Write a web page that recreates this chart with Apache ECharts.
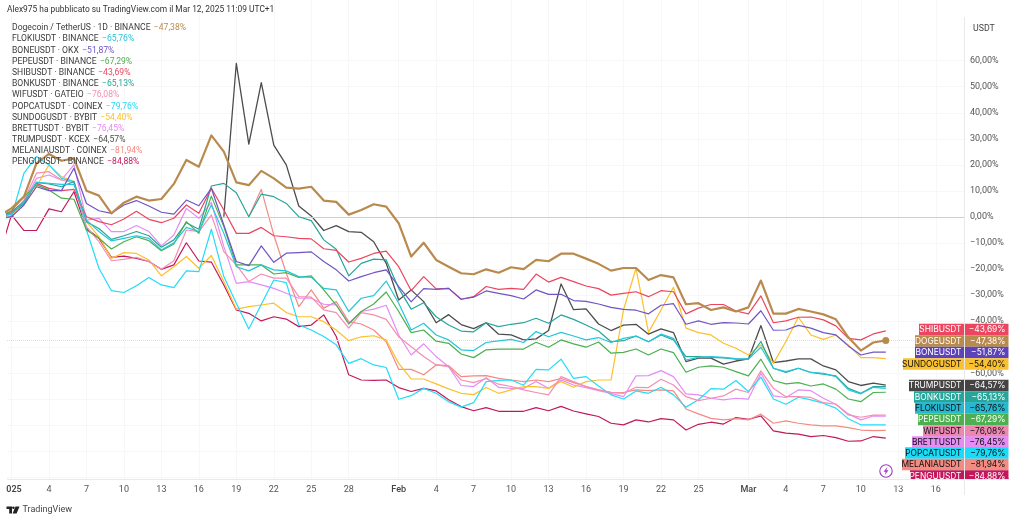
<!DOCTYPE html>
<html>
<head>
<meta charset="utf-8">
<style>
  html, body { margin: 0; padding: 0; background: #fff; }
  #chart { width: 1024px; height: 521px; }
</style>
<script src="https://cdn.jsdelivr.net/npm/echarts@6/dist/echarts.min.js"></script>
</head>
<body>
<div id="chart"></div>
<script>
// percent change, one value per day; day 0 = Jan 1, day -1 = Dec 31
const doge = [0.5, 3.3,7.8,20.6,24.2,21.6,22.5,10.1,8.2,1.4,5.5,7.8,6.3,6.9,12.7,21.9,19.3,31.3,25.1,13.3,12.2,17.7,14.8,11.3,10.9,11.6,6.3,5.8,
  0.9,2.7,4.9,4,-2.4,-15.2,-9.9,-16.5,-19.1,-21.6,-22,-20.1,-21.4,-19.3,-20,-16.5,-17,-14.1,-14.1,-16,-18,-20.6,-19.6,-19.6,-24.2,-22.3,-23.2,
  -33.5,-33.1,-35.7,-34.7,-36.3,-34.7,-24.4,-37.1,-37.1,-35.3,-36.3,-37.4,-39.3,-46.2,-51.3,-48.2,-47.4];
const shib = [0, 2,5.9,12.9,11,10.1,10.6,0.1,-1.8,-3,-0.8,2.2,-0.9,-2.2,-0.5,4.6,1.4,11,2.7,-6.3,-6.3,-4,-7.2,-7.6,-8.2,-8.4,-12.2,-12.8,
  -17.3,-15.9,-14,-13.1,-19.1,-28.3,-22.9,-27.6,-27.4,-31.6,-30.6,-26.7,-27.8,-27.4,-27.8,-21.9,-25,-23.2,-24.8,-26.5,-27.5,-30,-29.3,-28.7,-30.6,-28.3,-28.7,
  -37.2,-35,-33.6,-33.6,-36.1,-37.2,-30.3,-40.6,-39.9,-38.5,-38.4,-39.5,-41.8,-46.6,-47.2,-44.9,-43.7];
const bone = [-0.5, 0.1,4.6,11.6,10.1,10.1,18.7,5.2,2.4,1.4,4.6,6.3,4.2,1.8,1.1,6.5,4.3,11,-3.1,-17.1,-18.7,-11.1,-17.4,-13.9,-13.7,-13.4,-17.1,-20.3,
  -24.6,-22.9,-21.4,-20.3,-26.7,-32.6,-27.5,-27.8,-27.4,-31.6,-30.8,-28.4,-29.3,-30.2,-31.5,-28,-29.7,-29.7,-32.1,-32.4,-33.4,-34.7,-35.5,-35.8,-37.2,-33.9,-33.3,
  -41.2,-39.9,-41.2,-40.6,-40.7,-41.1,-36,-43.5,-43.4,-41.6,-42.7,-44.4,-45.3,-49.5,-53,-51.9,-51.9];
const bonk = [0, 1.4,5.2,13.3,12.7,11.6,13.6,-1.8,-4.4,-8.6,-7.2,-5.6,-7.2,-11.6,-8.8,-2.2,-4.7,11.9,12.9,9.3,0.1,8.8,7.8,5.2,0.1,-1.4,-8.8,-12.4,
  -22.6,-17.8,-16.2,-16.5,-27.4,-35.4,-32.9,-38.3,-41.5,-43.8,-44.1,-40.6,-42.1,-41.2,-40.6,-38.9,-40.8,-37.6,-39.3,-41.5,-43.8,-47.9,-47.5,-45.7,-47.9,-45.3,-47.2,
  -53.6,-53.6,-53.9,-54.1,-54.6,-54.6,-47.8,-58.1,-59.7,-58.1,-59.7,-60.3,-61,-65.8,-67.7,-65.1,-65.1];
const floki = [0, 1.2,5.9,13.3,12.9,12.5,12.5,-1.2,-5.6,-9.2,-8.2,-7.2,-8.2,-12.7,-9.9,-4,-5.6,4.6,-6.3,-19.1,-20.7,-18.4,-20.3,-20.7,-22.9,-23.2,-27.4,-28,
  -36.3,-31.2,-30.2,-24.6,-33.1,-43.4,-40.8,-45.3,-47.2,-51,-51.3,-48.2,-47.6,-47,-48.2,-44,-46,-44.3,-45.7,-47.2,-46.3,-48.2,-46.6,-45.7,-47.9,-45,-46.6,
  -54.9,-53.9,-53.6,-53.9,-54.4,-54.6,-50,-58.1,-59.4,-58.1,-59.7,-60,-61.3,-66.4,-67.9,-65.4,-65.8];
const pepe = [0, 2.4,7.8,12.3,10.4,7.2,6.8,-5,-8.2,-12.3,-9.5,-7.6,-9.1,-13,-10.4,-1.8,-6.3,8,-3.7,-18.4,-18.4,-18.4,-21.9,-21.4,-23.2,-22.6,-28,-33.8,
  -41.1,-36.3,-33.4,-28.8,-36.3,-44.4,-43.4,-47.7,-48.5,-52.6,-54,-51,-50.7,-50.7,-50.7,-48.1,-50,-47.2,-48.7,-50,-48,-52.3,-52,-50.7,-53,-50.7,-52.1,
  -59.6,-57.7,-57.2,-57.7,-59.4,-61,-54.6,-62.8,-64.1,-63.6,-64.9,-64.1,-66.1,-69.9,-70.9,-67.4,-67.3];
const wif = [0, 1.4,6.5,16.8,17.4,14.2,13.2,-3.7,-9.5,-16.8,-16.3,-15.5,-17.1,-20.1,-16.8,-5,-5.6,0.8,-13.3,-18.4,-24.8,-21.9,-23.5,-23.5,-30.6,-30.8,-35.7,-36.7,
  -42.7,-36.7,-37.6,-39.3,-46,-49.8,-53.6,-56.8,-57.5,-62.6,-63.6,-62,-64.2,-65.1,-66.4,-67.4,-68.3,-61.3,-63.2,-65.1,-66.4,-67.4,-67.7,-65.4,-65.5,-62.3,-64.5,
  -69,-70.5,-69.6,-68.7,-66.1,-67.4,-59.1,-65.8,-69,-69,-69.3,-71.3,-71.9,-76,-76.9,-76.1,-76.1];
const brett = [0, 0.8,5.9,14.8,16.1,14.2,20,-1.2,-0.5,-5.6,-5.6,-3.3,-5.6,-11.1,-6.9,3.3,-0.5,5.6,-11.4,-25.5,-24.8,-26.1,-27.4,-29.3,-31.2,-31.2,-33.5,-33.8,
  -40.8,-36.3,-35.4,-33.9,-45.3,-53,-48.7,-53.6,-57.5,-64.7,-65.1,-61.7,-65.4,-65.8,-65.8,-63.2,-65.8,-62.6,-64.5,-65.5,-66.7,-67.7,-69,-61,-60.9,-59,-61.3,
  -67.9,-68.3,-69.6,-70.2,-69.6,-69.9,-60,-68.7,-69.3,-66.4,-66.7,-69.6,-71.9,-75.6,-77.9,-76.4,-76.5];
const popcat = [-1, 0.1,16.8,23.2,20,14.8,13.6,-5,-19.7,-28.3,-29,-26.4,-23.2,-26.1,-27.1,-20.7,-21,-4.7,-22.9,-33.1,-43,-33.5,-24.2,-25.2,-41.5,-43.4,-45.9,-49.1,
  -56.2,-54.4,-56.8,-57.8,-70,-68.6,-65.8,-67.7,-70.9,-73,-71.3,-63.2,-62.7,-62.6,-64.6,-58.5,-58.7,-54.6,-62,-61.3,-64.9,-68.3,-69.9,-66.8,-67.7,-65.4,-68.3,
  -73,-70.2,-65.9,-66.1,-62.8,-67,-61.5,-69.9,-71.9,-69.2,-70.2,-71.5,-73.4,-77.5,-79.8,-79.8,-79.8];
const sundog = [0, 0.8,5.2,11.6,20,15.5,13.6,-1.8,-7.6,-15.9,-13.7,-14,-16.5,-22.6,-19.1,-15.2,-19.7,-14.8,-24.8,-35.4,-34.4,-33.8,-33.1,-36.7,-38.3,-38.3,-40.2,-43.4,
  -47.5,-46,-45.6,-47.2,-56.2,-62.2,-62.2,-64.1,-66,-67.7,-68.2,-65.5,-67.7,-66.4,-65.1,-65.1,-65.8,-63.2,-65.4,-63.2,-62.6,-62.6,-35.7,-19.7,-44.3,-35.7,-27,
  -42.7,-44.4,-45.3,-48.5,-50.4,-53,-49.1,-56.2,-47.8,-38.5,-45.3,-47,-45.3,-49.1,-54,-54,-54.4];
const pengu = [-15, 0.8,-5.2,-5.2,3.1,2,9.7,-4.4,-8.2,-15.5,-15,-15.9,-17.1,-20.1,-18.4,-9.9,-16.9,-17.3,-26.1,-35.7,-37,-39.9,-38.3,-39.2,-42.1,-41.5,-37.6,-45.9,
  -60.6,-62.6,-62.7,-62.6,-65.5,-67,-65.8,-66.8,-70.2,-72.8,-74.4,-73.2,-74.6,-74.6,-74.6,-73.2,-74.4,-72.7,-74.5,-75.6,-76.6,-79.2,-79.8,-77.9,-78.7,-77.4,-77.9,
  -81.8,-79.6,-78.8,-79.5,-77,-77.7,-76.4,-82.1,-83,-83.4,-84.3,-83.9,-84.7,-86.1,-86,-84.3,-84.9];
// these two started trading later
const trumpStart = 17;
const trump = [0.1,59,28,51.6,27.6,20,4.2,0.4,-5.2,-3.3,
  -5.6,-5.9,-9.5,-17.8,-31.9,-28,-32.5,-40.6,-37.5,-41.3,-42.9,-40.6,-45,-45.3,-47.2,-46.8,-43.6,-25.7,-35.6,-35.3,-41.1,-43.6,-41.5,-41.2,-45,-43,-44.4,
  -55.5,-54.2,-54.2,-56.5,-55.3,-54.5,-41.7,-55.9,-55.3,-54.5,-54.5,-57.2,-58.7,-63.2,-64.7,-63.8,-64.6];
const melaniaStart = 19;
const melania = [0.1,10.6,-6.9,-21.6,-34.4,-28,-35,-32.5,
  -40.2,-41.1,-43.4,-47.9,-58.5,-58.5,-60.6,-56.8,-57.1,-61.3,-61,-60.9,-62,-62.6,-63.2,-62.6,-63.2,-62,-63.6,-65.1,-66.4,-67.3,-67.4,-66.4,-66.7,-66.4,-66.8,
  -73.7,-75.6,-77.3,-77.9,-77.4,-77.9,-75.7,-79.2,-78.3,-79.2,-79.8,-80.2,-80.2,-80.9,-81.8,-82,-81.9];

const legendNames = ['Dogecoin / TetherUS · 1D · BINANCE', 'FLOKIUSDT · BINANCE', 'BONEUSDT · OKX', 'PEPEUSDT · BINANCE',
  'SHIBUSDT · BINANCE', 'BONKUSDT · BINANCE', 'WIFUSDT · GATEIO', 'POPCATUSDT · COINEX', 'SUNDOGUSDT · BYBIT',
  'BRETTUSDT · BYBIT', 'TRUMPUSDT · KCEX', 'MELANIAUSDT · COINEX', 'PENGUUSDT · BINANCE'];
const legendValues = ['−47,38%', '−65,76%', '−51,87%', '−67,29%', '−43,69%', '−65,13%', '−76,08%', '−79,76%', '−54,40%', '−76,45%', '−64,57%', '−81,94%', '−84,88%'];
const legendColors = ['#b98a4e', '#26c6da', '#6f55c4', '#4caf50', '#ec4560', '#26a69a', '#f48fb1', '#22dcf8', '#fbc02d', '#e58cf5', '#4d4d4d', '#f28b82', '#c2185b'];

const tagNames = ['SHIBUSDT', 'DOGEUSDT', 'BONEUSDT', 'SUNDOGUSDT', 'TRUMPUSDT', 'BONKUSDT', 'FLOKIUSDT', 'PEPEUSDT', 'WIFUSDT', 'BRETTUSDT', 'POPCATUSDT', 'MELANIAUSDT', 'PENGUUSDT'];
const tagValues = ['−43,69%', '−47,38%', '−51,87%', '−54,40%', '−64,57%', '−65,13%', '−65,76%', '−67,29%', '−76,08%', '−76,45%', '−79,76%', '−81,94%', '−84,88%'];
const tagColors = ['#ec4560', '#b98a4e', '#5e43b8', '#fbc02d', '#444444', '#26a69a', '#26b8d0', '#4caf50', '#ec87b2', '#e58cf5', '#18dcf8', '#f28b82', '#c2185b'];
const tagText = ['#fff', '#fff', '#fff', '#111', '#fff', '#fff', '#111', '#fff', '#111', '#111', '#111', '#111', '#fff'];

const yTicks = [60, 50, 40, 30, 20, 10, 0, -10, -20, -30, -40, -50, -60, -70, -80, -90, -100];
const xTickDays = [0, 3, 6, 9, 12, 15, 18, 21, 24, 27, 31, 34, 37, 40, 43, 46, 49, 52, 55, 59, 62, 65, 68, 71, 74];
const xTickLabels = ['025', '4', '7', '10', '13', '16', '19', '22', '25', '28', 'Feb', '4', '7', '10', '13', '16', '19', '22', '25', 'Mar', '4', '7', '10', '13', '16'];

// layout of the page
const FONT = 'Roboto, "Noto Sans", sans-serif';
const TAG_FONT = 'Inter, "Noto Sans", sans-serif';
const GRID_L = 7, GRID_R = 964, GRID_B = 479;
const legendY = [28, 39.3, 50.5, 61.5, 73, 84, 95.2, 106.5, 117.7, 129, 140, 151, 162];
const tagY = [329.5, 341, 352.5, 364, 385.5, 397, 408, 419.5, 431, 442, 453, 464.5, 476];
const tagLeft = [919, 915, 915, 903, 909, 914, 915, 918, 923, 912, 905, 902, 910];
const TAG_H = 11.4;

function toPoints(values, start) {
    return values.map((v, i) => [start + i, v]);
}

function lineSeries(name, values, start, color, width, z) {
    return {
        name: name,
        type: 'line',
        data: toPoints(values, start),
        showSymbol: false,
        z: z,
        silent: true,
        lineStyle: { color: color, width: width, join: 'round' },
        itemStyle: { color: color },
    };
}

const series = [
    lineSeries('PENGU', pengu, -1, legendColors[12], 1.2, 2),
    lineSeries('MELANIA', melania, melaniaStart, legendColors[11], 1.2, 3),
    lineSeries('TRUMP', trump, trumpStart, legendColors[10], 1.3, 4),
    lineSeries('BRETT', brett, -1, legendColors[9], 1.2, 5),
    lineSeries('SUNDOG', sundog, -1, legendColors[8], 1.2, 6),
    lineSeries('POPCAT', popcat, -1, legendColors[7], 1.2, 7),
    lineSeries('WIF', wif, -1, legendColors[6], 1.2, 8),
    lineSeries('BONK', bonk, -1, legendColors[5], 1.2, 9),
    lineSeries('SHIB', shib, -1, legendColors[4], 1.2, 10),
    lineSeries('PEPE', pepe, -1, legendColors[3], 1.2, 11),
    lineSeries('BONE', bone, -1, legendColors[2], 1.2, 12),
    lineSeries('FLOKI', floki, -1, legendColors[1], 1.2, 13),
    lineSeries('DOGE', doge, -1, legendColors[0], 2.2, 14),
];

// zero line, last price line and the dot on the main series
const dogeLine = series[series.length - 1];
const lastDoge = doge[doge.length - 1];
dogeLine.markLine = {
    silent: true,
    symbol: 'none',
    label: { show: false },
    animation: false,
    data: [
        { yAxis: 0, lineStyle: { color: '#cfcfcf', type: 'solid', width: 1 } },
        { yAxis: lastDoge, lineStyle: { color: '#ecdcc6', type: 'dotted', width: 1 } },
    ],
};
dogeLine.markPoint = {
    silent: true,
    symbol: 'circle',
    symbolSize: 7,
    animation: false,
    label: { show: false },
    itemStyle: { color: legendColors[0] },
    data: [{ coord: [doge.length - 2, lastDoge] }],
};

const graphic = [];
function addText(x, y, text, size, fill, extra) {
    graphic.push(Object.assign({
        type: 'text', z: 50, x: x, y: y,
        style: { text: text, font: size + 'px ' + FONT, fill: fill, textVerticalAlign: 'middle' },
    }, extra || {}));
}

addText(7, 10, 'Alex975 ha pubblicato su TradingView.com il Mar 12, 2025 11:09 UTC+1', 8.4, '#333');
addText(973, 29, 'USDT', 8.8, '#444');
addText(22.5, 510, 'TradingView', 9, '#444');

legendNames.forEach((name, i) => {
    graphic.push({
        type: 'text', z: 50, x: 12, y: legendY[i],
        style: {
            text: '{n|' + name + '} {v|' + legendValues[i] + '}',
            verticalAlign: 'middle',
            rich: {
                n: { font: '8.6px ' + FONT, fill: '#3a3a3a' },
                v: { font: '8.6px ' + FONT, fill: legendColors[i] },
            },
        },
    });
});

// price tags on the right axis
tagNames.forEach((name, i) => {
    const top = tagY[i] - TAG_H / 2;
    graphic.push({ type: 'rect', z: 60, shape: { x: tagLeft[i], y: top, width: 1008.5 - tagLeft[i], height: TAG_H }, style: { fill: tagColors[i] } });
    graphic.push({ type: 'text', z: 61, x: 961.5, y: tagY[i], style: { text: name, font: '8.4px ' + TAG_FONT, fill: tagText[i], textAlign: 'right', textVerticalAlign: 'middle' } });
    graphic.push({ type: 'text', z: 61, x: 1005.5, y: tagY[i], style: { text: tagValues[i], font: '8.4px ' + TAG_FONT, fill: tagText[i], textAlign: 'right', textVerticalAlign: 'middle' } });
});

// PENGU tag is cut by the time scale, then the scale borders on top
graphic.push({ type: 'rect', z: 62, shape: { x: 895, y: 479.5, width: 120, height: 6 }, style: { fill: '#fff' } });
graphic.push({ type: 'line', z: 63, shape: { x1: GRID_L, y1: 479.5, x2: 1010, y2: 479.5 }, style: { stroke: '#e9e9e9', lineWidth: 1 } });
graphic.push({ type: 'line', z: 63, shape: { x1: GRID_R + 0.5, y1: 17, x2: GRID_R + 0.5, y2: 495 }, style: { stroke: '#e9e9e9', lineWidth: 1 } });

// lightning badge
graphic.push({ type: 'circle', z: 55, shape: { cx: 886, cy: 471, r: 6.2 }, style: { fill: '#fff', stroke: '#9c3fc0', lineWidth: 1.1 } });
graphic.push({ type: 'polygon', z: 56, shape: { points: [[887.5, 466.8], [883.6, 471.8], [885.8, 471.8], [884.6, 475.2], [888.5, 470.2], [886.3, 470.2]] }, style: { fill: '#9c3fc0' } });

// TradingView logo
graphic.push({ type: 'polygon', z: 50, shape: { points: [[6.5, 506.5], [12, 506.5], [12, 513.5], [9.2, 513.5], [9.2, 509], [6.5, 509]] }, style: { fill: '#222' } });
graphic.push({ type: 'circle', z: 50, shape: { cx: 13.4, cy: 507.8, r: 1.3 }, style: { fill: '#222' } });
graphic.push({ type: 'polygon', z: 50, shape: { points: [[15.5, 506.5], [19.5, 506.5], [16.6, 513.5], [12.6, 513.5]] }, style: { fill: '#222' } });

const chart = echarts.init(document.getElementById('chart'), null, { renderer: 'canvas' });

chart.setOption({
    animation: false,
    backgroundColor: '#fff',
    grid: { left: GRID_L, right: 1024 - GRID_R, top: 0, bottom: 521 - GRID_B },
    xAxis: {
        type: 'value',
        min: -0.36,
        max: 76.26,
        axisLine: { show: false },
        axisTick: { show: false, customValues: xTickDays },
        axisLabel: {
            customValues: xTickDays,
            color: '#555',
            fontFamily: FONT,
            fontSize: 9,
            margin: 6,
            hideOverlap: false,
            showMinLabel: true,
            showMaxLabel: true,
            formatter: function (v) {
                const text = xTickLabels[xTickDays.indexOf(v)];
                if (v === 0) return '{y|' + text + '}';
                return isNaN(text) ? '{b|' + text + '}' : text;
            },
            rich: {
                y: { fontWeight: 600, color: '#444', fontFamily: FONT, fontSize: 9, padding: [0, 0, 0, 5] },
                b: { fontWeight: 500, color: '#444', fontFamily: FONT, fontSize: 9 },
            },
        },
        splitLine: { show: true, lineStyle: { color: '#f7f7f7', width: 1 } },
    },
    yAxis: {
        type: 'value',
        position: 'right',
        min: -100.6,
        max: 83.3,
        axisLine: { show: false },
        axisTick: { show: false, customValues: yTicks },
        axisLabel: {
            customValues: yTicks,
            color: '#555',
            fontFamily: FONT,
            fontSize: 9,
            margin: 6,
            align: 'left',
            padding: [2, 0, 0, 0],
            formatter: function (v) {
                return (v < 0 ? '−' : '') + Math.abs(v) + ',00%';
            },
        },
        splitLine: { show: true, lineStyle: { color: '#f7f7f7', width: 1 } },
    },
    series: series,
    graphic: graphic,
});
</script>
</body>
</html>
